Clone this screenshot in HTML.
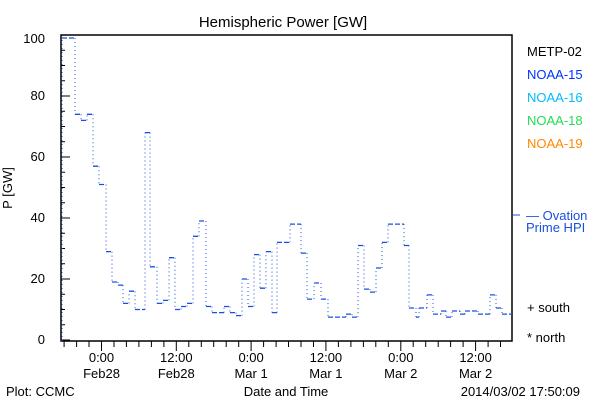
<!DOCTYPE html>
<html><head><style>
body{margin:0;background:#fff;}
svg text{font-family:"Liberation Sans",sans-serif;}
</style></head><body>
<svg width="600" height="400" xmlns="http://www.w3.org/2000/svg">
<rect width="600" height="400" fill="#fff"/>
<text x="283" y="27" font-size="15" text-anchor="middle" fill="#000">Hemispheric Power [GW]</text>
<rect x="61" y="35" width="451" height="306" stroke="#000" stroke-width="1.5" fill="none"/>
<path stroke="#000" stroke-width="1" fill="none" d="M61 340H70M61 324.75H65M61 309.5H65M61 294.25H65M61 279H70M61 263.75H65M61 248.5H65M61 233.25H65M61 218H70M61 202.75H65M61 187.5H65M61 172.25H65M61 157H70M61 141.75H65M61 126.5H65M61 111.25H65M61 96H70M61 80.75H65M61 65.5H65M61 50.25H65M61 35H70"/>
<path stroke="#000" stroke-width="1" fill="none" d="M64.1 341V347M76.6 341V347M89 341V347M101.5 341V351M114 341V347M126.4 341V347M138.9 341V347M151.4 341V347M163.9 341V347M176.3 341V351M188.8 341V347M201.3 341V347M213.7 341V347M226.2 341V347M238.7 341V347M251.1 341V351M263.6 341V347M276.1 341V347M288.5 341V347M301 341V347M313.5 341V347M325.9 341V351M338.4 341V347M350.9 341V347M363.4 341V347M375.8 341V347M388.3 341V347M400.8 341V351M413.2 341V347M425.7 341V347M438.2 341V347M450.6 341V347M463.1 341V347M475.6 341V351M488.1 341V347M500.5 341V347"/>
<g font-size="13" fill="#000" text-anchor="end">
<text x="45" y="344">0</text><text x="45" y="283">20</text><text x="45" y="222">40</text><text x="45" y="161">60</text><text x="45" y="100">80</text><text x="45" y="43">100</text>
</g>
<text x="12" y="188" font-size="13" transform="rotate(-90 12 188)" text-anchor="middle">P [GW]</text>
<g font-size="13" fill="#000" text-anchor="middle">
<text x="101.5" y="362">0:00</text><text x="101.5" y="378">Feb28</text>
<text x="176.3" y="362">12:00</text><text x="176.3" y="378">Feb28</text>
<text x="251.1" y="362">0:00</text><text x="251.1" y="378">Mar 1</text>
<text x="325.9" y="362">12:00</text><text x="325.9" y="378">Mar 1</text>
<text x="400.8" y="362">0:00</text><text x="400.8" y="378">Mar 2</text>
<text x="475.6" y="362">12:00</text><text x="475.6" y="378">Mar 2</text>
<text x="286" y="396">Date and Time</text>
</g>
<text x="6" y="396" font-size="13">Plot: CCMC</text>
<text x="580" y="396" font-size="13" text-anchor="end">2014/03/02 17:50:09</text>
<g font-size="13">
<text x="527" y="56" fill="#000">METP-02</text>
<text x="527" y="79" fill="#0033ff">NOAA-15</text>
<text x="527" y="102" fill="#00bbff">NOAA-16</text>
<text x="527" y="125" fill="#22dd55">NOAA-18</text>
<text x="527" y="148" fill="#ff8800">NOAA-19</text>
<text x="526" y="220" fill="#1a50e0">— Ovation</text>
<text x="526" y="232" fill="#1a50e0">Prime HPI</text>
<text x="527" y="312" fill="#000">+ south</text>
<text x="527" y="342" fill="#000">* north</text>
</g>
<line x1="513" y1="215" x2="520" y2="215" stroke="#1a50e0" stroke-width="1"/>
<path stroke="#1a50e0" stroke-width="1.3" stroke-dasharray="5 2" fill="none" d="M62 38H75M75 114.3H81M81 120.4H87M87 114.3H93M93 166.2H99M99 184.5H106M106 251.6H112M112 282H118M118 285.1H123M123 303.4H129M129 291.2H135M135 309.5H145M145 132.6H150M150 266.8H157M157 303.4H163M163 300.4H169M169 257.7H175M175 309.5H181M181 306.5H187M187 303.4H193M193 236.3H199M199 221H206M206 306.5H212M212 312.6H224M224 306.5H230M230 312.6H236M236 315.6H242M242 279H248M248 306.5H254M254 254.6H260M260 288.2H266M266 251.6H272M272 312.6H277M277 242.4H290M290 224.1H301M301 253.1H307M307 299.1H314M314 283H321M321 299.1H328M328 317.1H346M346 314.1H352M352 317.1H358M358 245.5H364M364 289.1H370M370 292.1H376M376 268H382M382 242.4H388M388 224.1H404M404 245.5H409M409 308H416M416 317.1H419M419 308H427M427 294.9H433M433 314.1H441M441 311H446M446 317.1H452M452 311H460M460 314.1H465M465 311H478M478 314.1H490M490 294.9H496M496 308H502M502 314.1H512"/>
<path stroke="#1a50e0" stroke-width="1" stroke-dasharray="1 3" fill="none" d="M62 341V38M75 38V114.3M81 114.3V120.4M87 120.4V114.3M93 114.3V166.2M99 166.2V184.5M106 184.5V251.6M112 251.6V282M118 282V285.1M123 285.1V303.4M129 303.4V291.2M135 291.2V309.5M145 309.5V132.6M150 132.6V266.8M157 266.8V303.4M163 303.4V300.4M169 300.4V257.7M175 257.7V309.5M181 309.5V306.5M187 306.5V303.4M193 303.4V236.3M199 236.3V221M206 221V306.5M212 306.5V312.6M224 312.6V306.5M230 306.5V312.6M236 312.6V315.6M242 315.6V279M248 279V306.5M254 306.5V254.6M260 254.6V288.2M266 288.2V251.6M272 251.6V312.6M277 312.6V242.4M290 242.4V224.1M301 224.1V253.1M307 253.1V299.1M314 299.1V283M321 283V299.1M328 299.1V317.1M346 317.1V314.1M352 314.1V317.1M358 317.1V245.5M364 245.5V289.1M370 289.1V292.1M376 292.1V268M382 268V242.4M388 242.4V224.1M404 224.1V245.5M409 245.5V308M416 308V317.1M419 317.1V308M427 308V294.9M433 294.9V314.1M441 314.1V311M446 311V317.1M452 317.1V311M460 311V314.1M465 314.1V311M478 311V314.1M490 314.1V294.9M496 294.9V308M502 308V314.1"/>
</svg>
</body></html>
